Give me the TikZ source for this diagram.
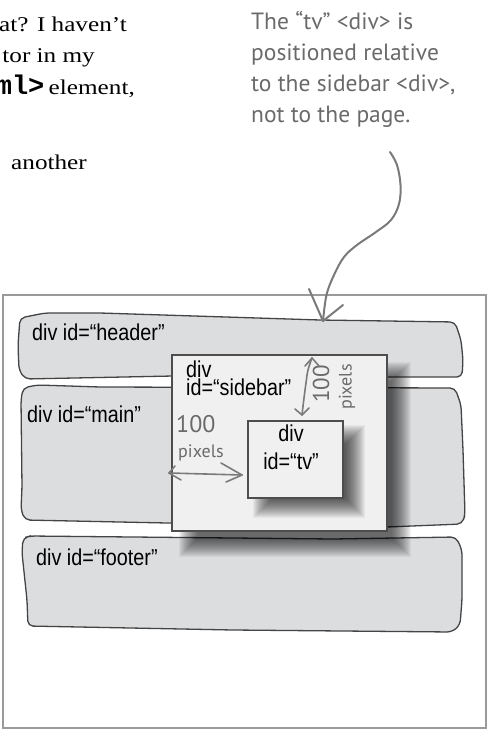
\documentclass[tikz,border=0pt]{standalone}
\usepackage{fontspec}
\setmainfont{Liberation Serif}
\newfontfamily\parafont[FakeStretch=1.2]{Liberation Serif}
\newfontfamily\codefont{Liberation Mono}
\newfontfamily\labelfont[FakeStretch=0.86]{Liberation Sans}
\newfontfamily\handfont{PT Sans}
\definecolor{blobfill}{HTML}{DCDDDF}
\definecolor{blobline}{HTML}{444444}
\definecolor{boxfill}{HTML}{EFF0EF}
\definecolor{boxline}{HTML}{4D4D4D}
\definecolor{pageline}{HTML}{9A9A9A}
\definecolor{handgray}{HTML}{6A6A6A}
\definecolor{arrowgray}{HTML}{7A7A7A}
\newcommand\softshadow[4]{%
  \foreach \k in {0,...,19}{\fill[black,opacity=0.042] ({#1-10+\k},{#2+10-\k}) rectangle ({#3+10-\k},{#4-10+\k});}}
\begin{document}
\begin{tikzpicture}[x=1pt,y=1pt,
  para/.style={inner sep=0, anchor=base east, font=\parafont\fontsize{21}{31}\selectfont},
  blob/.style={fill=blobfill, draw=blobline, line width=1.3pt, rounded corners=5pt},
  divbox/.style={draw=boxline, fill=boxfill, line width=1.8pt, inner sep=0, anchor=north west},
  lbl/.style={inner sep=0, text=black, font=\labelfont\fontsize{23}{27}\selectfont},
  hand/.style={inner sep=0, text=handgray, font=\handfont\fontsize{23.5}{31}\selectfont},
  handline/.style={draw=arrowgray, line width=1.6pt, line cap=round, line join=round},
  bigline/.style={draw=arrowgray, line width=2pt, line cap=round, line join=round}]
\useasboundingbox (0,0) rectangle (488,-730);
\clip (0,0) rectangle (488,-730);

% paragraph fragment (cut at the left edge)
\node[para] (p1) at (127,-32) {at? I haven’t};
\node[para] (p2) at (95,-63) {tor in my};
\node[para] (p3) at (135,-95) {{\codefont\bfseries\fontsize{27}{31}\selectfont ml>}\hspace{-2pt} element,};
\node[para] (p4) at (87,-170) {another};

% annotation
\node[hand, anchor=north west, align=left] (note) at (251,-11)
  {The “tv” <div> is\\positioned relative\\to the sidebar <div>,\\not to the page.};

% page
\draw[pageline, line width=1.5pt] (3,-295) rectangle (486,-728);

% header blob
\draw[blob] (20,-318) -- (45,-313) -- (100,-313) -- (320,-320) -- (455,-322)
  -- (461,-340) -- (463,-360) -- (462,-377) -- (300,-377) -- (173,-376)
  -- (25,-379) -- (19,-370) -- (18,-345) -- cycle;
% main blob
\draw[blob] (23,-388) -- (37,-385) -- (100,-387) -- (455,-388)
  -- (461,-405) -- (463,-450) -- (465,-515) -- (462,-524) -- (387,-527)
  -- (167,-523) -- (25,-520) -- (21,-510) -- (22,-487) -- (21,-400) -- cycle;
% footer blob
\draw[blob] (23,-538) -- (30,-536) -- (133,-537) -- (333,-539) -- (456,-537)
  -- (462,-550) -- (462,-600) -- (460,-625) -- (452,-632) -- (233,-630)
  -- (28,-626) -- (27,-600) -- (22,-553) -- cycle;

\node[lbl, anchor=base west] (hdr) at (32,-340) {div id=“header”};
\node[lbl, anchor=base west] (mainl) at (27,-422) {div id=“main”};
\node[lbl, anchor=base west] (ftr) at (36,-565) {div id=“footer”};

% sidebar
\softshadow{189}{-372}{401}{-547}
\node[divbox, minimum width=215pt, minimum height=176pt] (sidebar) at (171,-354) {};
\node[lbl, anchor=north west, align=left, font=\labelfont\fontsize{23}{18}\selectfont] (sbl) at (186,-361) {div\\id=“sidebar”};

% tv
\softshadow{263}{-435}{355}{-508}
\node[divbox, minimum width=95pt, minimum height=77pt] (tv) at (247,-420) {};
\node[lbl, anchor=north, align=center, font=\labelfont\fontsize{23}{28}\selectfont] (tvl) at (291,-425) {div\\id=“tv”};

% horizontal 100 pixels
\node[hand, anchor=base west, font=\handfont\fontsize{24}{24}\selectfont] (h100) at (176,-432) {100};
\node[hand, anchor=base west, font=\handfont\fontsize{18}{18}\selectfont] (hpix) at (178,-457) {pixels};
\coordinate (hl) at (169,-473);
\coordinate (hr) at (242,-475);
\draw[handline] (hl) -- (hr);
\draw[handline] (175,-466) -- (hl) -- (181,-480);
\draw[handline] (221,-463) -- (hr) -- (226,-482);

% vertical 100 pixels
\node[hand, rotate=90, font=\handfont\fontsize{23}{23}\selectfont] (v100) at (321,-384) {100};
\node[hand, rotate=90, font=\handfont\fontsize{18}{18}\selectfont] (vpix) at (347,-387) {pixels};
\coordinate (vt) at (312,-358);
\coordinate (vb) at (302,-415);
\draw[handline] plot[smooth, tension=0.7] coordinates {(vt) (308,-370) (306,-383) (304,-398) (vb)};
\draw[handline] (305,-366) -- (vt) -- (319,-366);
\draw[handline] (295,-409) -- (vb) -- (309,-408);

% big arrow from the note to the header
\coordinate (astart) at (390,-152);
\coordinate (atip) at (323,-321);
\draw[bigline] plot[smooth, tension=0.6] coordinates {(astart) (397,-165) (400.5,-185) (399,-204) (391,-220) (376,-232) (357,-245) (344,-257) (334,-275) (326.5,-295) (atip)};
\draw[bigline] (309,-289) -- (atip) -- (343,-305);
\end{tikzpicture}
\end{document}
